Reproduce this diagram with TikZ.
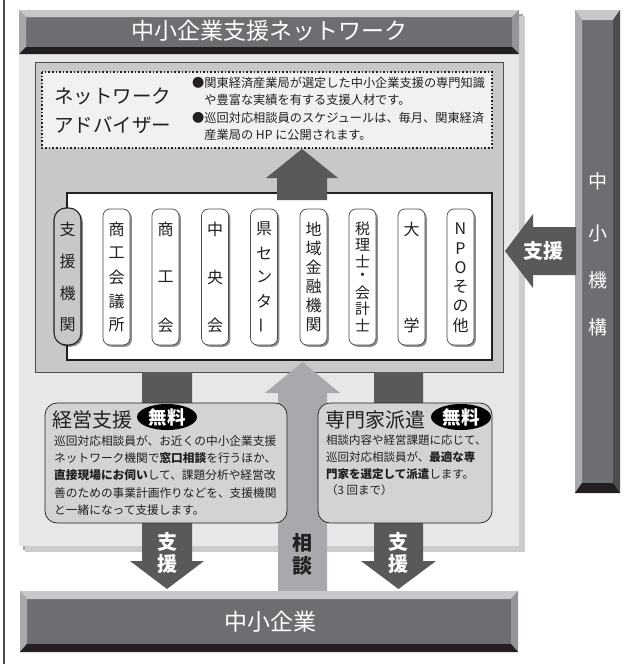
\documentclass[tikz,border=0pt]{standalone}
\usepackage{fontspec}
\usepackage{graphicx}
\setmainfont{Noto Sans CJK JP}
\usetikzlibrary{shapes.geometric,shadows}
\definecolor{dk}{HTML}{231F20}
\definecolor{face}{HTML}{6D6E71}
\definecolor{arrowdk}{HTML}{58595B}
\definecolor{arrowlt}{HTML}{A7A9AC}
\definecolor{panel}{HTML}{E6E7E8}
\definecolor{boxgray}{HTML}{C7C8CA}
\definecolor{cardgray}{HTML}{D1D3D4}
\definecolor{dotfill}{HTML}{F1F1F2}
\definecolor{bevtop}{HTML}{C7C8CA}
\definecolor{bevleft}{HTML}{A7A9AC}
\definecolor{bevright}{HTML}{939598}
\definecolor{bevdark}{HTML}{4D4D4F}
% bevelled bar: x1,y1,x2,y2, side width, top/bottom height, right colour
\newcommand\bevelbar[7]{%
 \fill[face] (#1,#2) rectangle (#3,#4);
 \fill[bevtop] (#1,#2) -- (#3,#2) -- ({#3-#5},{#2+#6}) -- ({#1+#5},{#2+#6}) -- cycle;
 \fill[bevleft] (#1,#2) -- ({#1+#5},{#2+#6}) -- ({#1+#5},{#4-#6}) -- (#1,#4) -- cycle;
 \fill[#7] (#3,#2) -- ({#3-#5},{#2+#6}) -- ({#3-#5},{#4-#6}) -- (#3,#4) -- cycle;
 \fill[dk] (#1,#4) -- ({#1+#5},{#4-#6}) -- ({#3-#5},{#4-#6}) -- (#3,#4) -- cycle;
}
% vertical column of characters: name, x, count, list
\newcommand\vcol[4]{%
 \foreach \c [count=\i] in {#4} {\node[vchar] (#1-\i) at (#2,{229+(\i-1)*96/(#3-1)}) {\c};}%
}
\tikzset{
 orgbox/.style={draw=dk!80, line width=0.7pt, fill=white, rounded corners=7pt,
   minimum width=27pt, minimum height=136pt, inner sep=0pt,
   drop shadow={shadow xshift=1.8pt, shadow yshift=-1.8pt, fill=black, opacity=0.45}},
 capsule/.style={draw=dk, line width=1.1pt, fill=boxgray, rounded corners=12pt,
   minimum width=27pt, minimum height=137pt, inner sep=0pt,
   drop shadow={shadow xshift=1.8pt, shadow yshift=-1.8pt, fill=black, opacity=0.45}},
 vchar/.style={inner sep=0pt, text=dk, font=\fontsize{16}{16}\selectfont},
 card/.style={draw=dk, line width=0.7pt, fill=cardgray, rounded corners=12pt},
 freebadge/.style={ellipse, fill=black, text=white, inner sep=0pt, minimum width=60pt,
   minimum height=26pt, font=\fontsize{18.5}{18.5}\selectfont\bfseries},
 cardtitle/.style={anchor=west, inner sep=0pt, text=dk, font=\fontsize{20}{20}\selectfont},
 bodytext/.style={anchor=north west, inner sep=0pt, align=left, text=dk},
 arrowtext/.style={inner sep=0pt, font=\fontsize{20}{20}\selectfont\bfseries},
 bartext/.style={inner sep=0pt, text=white, font=\fontsize{23}{23}\selectfont},
}
\begin{document}
\begin{tikzpicture}[x=1pt,y=-1pt]
\useasboundingbox (0,0) rectangle (632,664);
% left rule
\draw[line width=1.4pt, dk!80] (4,0) coordinate (lt) -- (4,664) coordinate (lb);
% main panel with shadow
\fill[black!35] (23,14) rectangle (523,550);
\fill[black!20] (24.5,15.5) rectangle (524.5,551.5);
\fill[panel] (19,10) rectangle (519,546);
% header
\bevelbar{19}{10}{519}{54}{7}{7}{bevright}
\node[bartext] (hdr) at (269,31) {中小企業支援ネットワーク};
% grey inner box
\filldraw[fill=boxgray, draw=dk!80, line width=0.8pt] (35,62) rectangle (503,372);
% dotted advisor box
\filldraw[fill=dotfill, draw=dk, line width=1.6pt, dotted] (42,72) rectangle (492,148);
\node[inner sep=0pt, anchor=west, text=dk, font=\fontsize{19.5}{19.5}\selectfont] (adv1) at (54,96) {ネットワーク};
\node[inner sep=0pt, anchor=west, text=dk, font=\fontsize{19.5}{19.5}\selectfont] (adv2) at (54,125) {アドバイザー};
\node[bodytext, font=\fontsize{12.2}{17.4}\selectfont] (advtxt) at (192,77)
 {●関東経済産業局が選定した中小企業支援の専門知識\\
  \hspace*{1em}や豊富な実績を有する支援人材です。\\
  ●巡回対応相談員のスケジュールは、毎月、関東経済\\
  \hspace*{1em}産業局の HP に公開されます。};
% down arrows (support to SMEs)
\fill[arrowdk] (142,372) -- (192,372) -- (192,561) -- (204,561) -- (167,589) coordinate (ldtip) -- (130,561) -- (142,561) -- cycle;
\fill[arrowdk] (374,372) -- (423,372) -- (423,561) -- (436,561) -- (398.5,589) coordinate (rdtip) -- (361,561) -- (374,561) -- cycle;
% white box of support bodies
\filldraw[fill=white, draw=dk, line width=1.2pt] (67,193) rectangle (492,360);
% up arrow to advisers
\fill[arrowdk] (302,149) coordinate (uptip) -- (338,178) -- (327,178) -- (327,200) -- (277,200) -- (277,178) -- (266,178) -- cycle;
% support bodies
\node[capsule] (c0) at (67.5,276.5) {};
\vcol{t0}{67.5}{4}{支,援,機,関}
\node[orgbox] (c1) at (116.5,277) {};
\vcol{t1}{116.5}{5}{商,工,会,議,所}
\node[orgbox] (c2) at (165.5,277) {};
\vcol{t2}{165.5}{3}{商,工,会}
\node[orgbox] (c3) at (215,277) {};
\vcol{t3}{215}{3}{中,央,会}
\node[orgbox] (c4) at (264,277) {};
\vcol{t4}{264}{5}{県,セ,ン,タ,\rotatebox{90}{ー}}
\node[orgbox] (c5) at (313.5,277) {};
\vcol{t5}{313.5}{6}{地,域,金,融,機,関}
\node[orgbox] (c6) at (362.5,277) {};
\begin{scope}[vchar/.append style={font=\fontsize{15}{15}\selectfont}]
\vcol{t6}{362.5}{7}{税,理,士,・,会,計,士}
\end{scope}
\node[orgbox] (c7) at (411.5,277) {};
\vcol{t7}{411.5}{2}{大,学}
\node[orgbox] (c8) at (460.5,277) {};
\vcol{t8}{460.5}{6}{N,P,O,そ,の,他}
% up arrow (consultation)
\fill[arrowlt] (302.5,362) coordinate (cstip) -- (340,393) -- (327,393) -- (327,591) -- (278,591) -- (278,393) -- (265,393) -- cycle;
% cards
\filldraw[card] (45,403) rectangle (287,523);
\node[cardtitle] (k1) at (52,420) {経営支援};
\node[freebadge] (f1) at (167,417) {無料};
\node[bodytext, font=\fontsize{11.7}{17.3}\selectfont] (k1txt) at (54,435)
 {巡回対応相談員が、お近くの中小企業支援\\
  ネットワーク機関で\textbf{窓口相談}を行うほか、\\
  \textbf{直接現場にお伺い}して、課題分析や経営改\\
  善のための事業計画作りなどを、支援機関\\
  と一緒になって支援します。};
\filldraw[card] (318,403) rectangle (492,523);
\node[cardtitle] (k2) at (325,420) {専門家派遣};
\node[freebadge] (f2) at (461,417) {無料};
\node[bodytext, font=\fontsize{11.5}{16.6}\selectfont] (k2txt) at (326,435)
 {相談内容や経営課題に応じて、\\
  巡回対応相談員が、\textbf{最適な専}\\
  \textbf{門家を選定して派遣}します。\\
  （3 回まで）};
% arrow labels
\node[arrowtext, text=white] (s1a) at (167,542) {支};
\node[arrowtext, text=white] (s1b) at (167,564) {援};
\node[arrowtext, text=white] (s2a) at (398.5,542) {支};
\node[arrowtext, text=white] (s2b) at (398.5,564) {援};
\node[arrowtext, text=dk] (s3a) at (302.5,543) {相};
\node[arrowtext, text=dk] (s3b) at (302.5,566) {談};
% bottom bar (SMEs)
\bevelbar{20}{591}{518}{652}{7}{8}{bevright}
\node[bartext] (sme) at (270,622) {中小企業};
% right bar (SME agency)
\bevelbar{575}{10}{620}{493}{7}{10}{bevdark}
\node[inner sep=0pt, text=white, font=\fontsize{19}{19}\selectfont] (j1) at (598,181) {中};
\node[inner sep=0pt, text=white, font=\fontsize{19}{19}\selectfont] (j2) at (598,233) {小};
\node[inner sep=0pt, text=white, font=\fontsize{19}{19}\selectfont] (j3) at (598,280) {機};
\node[inner sep=0pt, text=white, font=\fontsize{19}{19}\selectfont] (j4) at (598,327) {構};
% support arrow from agency
\fill[arrowdk] (505,251) coordinate (sptip) -- (533,214) -- (533,227) -- (576,227) -- (576,275) -- (533,275) -- (533,288) -- cycle;
\node[arrowtext, text=white] (sp) at (543,251) {支援};
\end{tikzpicture}
\end{document}
